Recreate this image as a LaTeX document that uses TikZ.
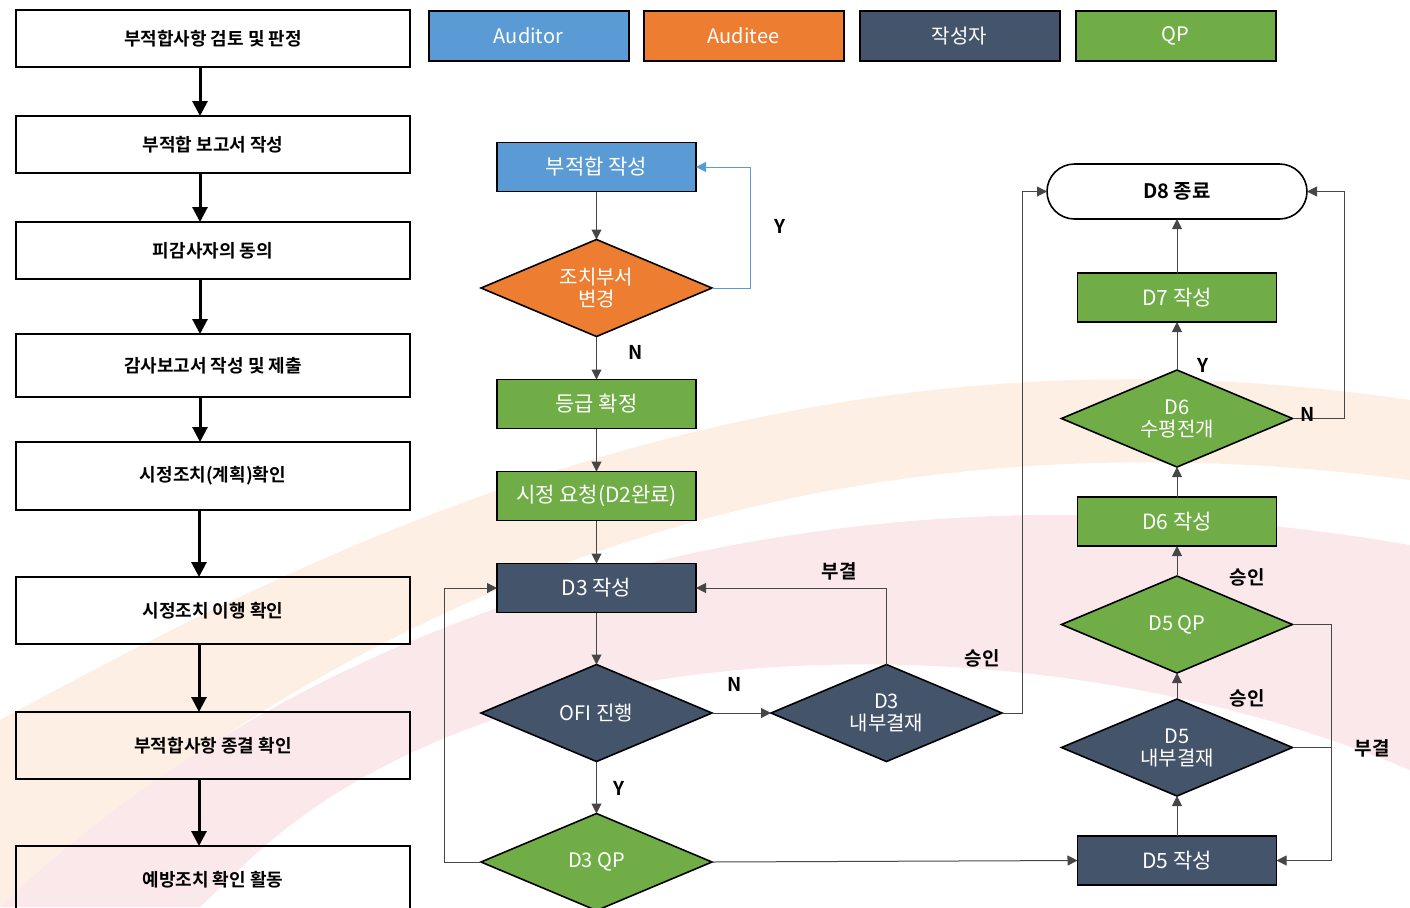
\documentclass[tikz,border=0pt]{standalone}
\usepackage{fontspec}
\setmainfont{Noto Sans CJK KR}[BoldFont={Noto Sans CJK KR Bold}]
\usetikzlibrary{shapes.geometric,arrows.meta,positioning}
\definecolor{auditorcolor}{RGB}{91,155,213}
\definecolor{auditeecolor}{RGB}{237,125,49}
\definecolor{writercolor}{RGB}{68,84,106}
\definecolor{qpcolor}{RGB}{112,173,71}
\definecolor{peachband}{RGB}{253,239,228}
\definecolor{pinkband}{RGB}{251,232,235}
\definecolor{linegray}{RGB}{70,70,70}

\begin{document}
\begin{tikzpicture}[
    x=0.5pt, y=-0.5pt,
    stepbox/.style={rectangle, draw, line width=1pt, outer sep=0pt, minimum width=197pt, font=\bfseries\fontsize{9}{10}\selectfont, align=center},
    module/.style={rectangle, draw, line width=0.8pt, outer sep=0pt, minimum width=99.5pt, minimum height=24.5pt, text=white, font=\fontsize{10.5}{12}\selectfont, align=center},
    legend/.style={minimum width=100pt, minimum height=25pt, line width=1pt, font=\fontsize{10}{12}\selectfont},
    auditor/.style={module, fill=auditorcolor},
    auditee/.style={module, fill=auditeecolor},
    writer/.style={module, fill=writercolor},
    qp/.style={module, fill=qpcolor},
    decision/.style={diamond, draw, line width=0.8pt, outer sep=0pt, aspect=2.36, minimum width=115.5pt, minimum height=48.5pt, inner sep=0pt, text=white, font=\fontsize{10}{11}\selectfont, align=center},
    auditeedec/.style={decision, fill=auditeecolor},
    writerdec/.style={decision, fill=writercolor},
    qpdec/.style={decision, fill=qpcolor},
    endbox/.style={rectangle, draw, line width=0.8pt, outer sep=0pt, rounded corners=13.75pt, fill=white, minimum width=130pt, minimum height=27.5pt, font=\bfseries\fontsize{10}{12}\selectfont},
    bigarrow/.style={-{Triangle[length=7.5pt,width=7.5pt]}, line width=1.5pt},
    flow/.style={-{Triangle[length=5pt,width=5pt]}, draw=linegray, line width=0.5pt},
    tag/.style={font=\bfseries\fontsize{9.5}{10}\selectfont}
]
\useasboundingbox (0,0) rectangle (1410,907);

% Background bands
\fill[peachband] (0,720) .. controls (350,530) and (800,310) .. (1410,400) -- (1410,480) .. controls (800,400) and (350,600) .. (0,907) -- cycle;
\fill[pinkband] (0,907) .. controls (300,620) and (800,440) .. (1410,545) -- (1410,770) .. controls (1100,640) and (700,630) .. (440,740) .. controls (300,800) and (250,860) .. (200,907) -- cycle;

% Left column: audit steps
\node[stepbox, minimum height=28.5pt] (s1) at (213,38.5) {부적합사항 검토 및 판정};
\node[stepbox, minimum height=28.5pt, below=24.5pt of s1] (s2) {부적합 보고서 작성};
\node[stepbox, minimum height=28.5pt, below=24.5pt of s2] (s3) {피감사자의 동의};
\node[stepbox, minimum height=31.5pt, below=27.5pt of s3] (s4) {감사보고서 작성 및 제출};
\node[stepbox, minimum height=34pt, below=22.5pt of s4] (s5) {시정조치(계획)확인};
\node[stepbox, minimum height=33.5pt, below=33.5pt of s5] (s6) {시정조치 이행 확인};
\node[stepbox, minimum height=33.5pt, below=34pt of s6] (s7) {부적합사항 종결 확인};
\node[stepbox, minimum height=34pt, below=33.5pt of s7] (s8) {예방조치 확인 활동};

% Legend
\node[auditor, legend] (lgaud) at (528.5,36) {Auditor};
\node[auditee, legend, right=7.5pt of lgaud] (lgaudt) {Auditee};
\node[writer, legend, right=8pt of lgaudt] (lgwr) {작성자};
\node[qp, legend, right=8pt of lgwr] (lgqp) {QP};

% Middle column
\node[auditor] (nc) at (596.5,167) {부적합 작성};
\node[auditeedec, below=24pt of nc] (chg) {조치부서\\변경};
\node[qp, below=21.5pt of chg] (grade) {등급 확정};
\node[qp, below=21.5pt of grade] (req) {시정 요청(D2완료)};
\node[writer, below=21.5pt of req] (d3w) {D3 작성};
\node[writerdec, below=26pt of d3w] (ofi) {OFI 진행};
\node[qpdec, below=26pt of ofi] (d3qp) {D3 QP};
\node[writerdec, right=29.5pt of ofi] (d3int) {D3\\내부결재};

% Right column
\node[writer] (d5w) at (1177,860.5) {D5 작성};
\node[writerdec, above=20pt of d5w] (d5int) {D5\\내부결재};
\node[qpdec, above=13pt of d5int] (d5qp) {D5 QP};
\node[qp, above=15pt of d5qp] (d6w) {D6 작성};
\node[qpdec, above=15pt of d6w] (d6h) {D6\\수평전개};
\node[qp, above=24pt of d6h] (d7w) {D7 작성};
\node[endbox, above=27pt of d7w] (d8) {D8 종료};

% Arrows - left column
\draw[bigarrow] ([xshift=-6.5pt]s1.south) -- ([xshift=-6.5pt]s2.north);
\draw[bigarrow] ([xshift=-6.5pt]s2.south) -- ([xshift=-6.5pt]s3.north);
\draw[bigarrow] ([xshift=-6.5pt]s3.south) -- ([xshift=-6.5pt]s4.north);
\draw[bigarrow] ([xshift=-6.5pt]s4.south) -- ([xshift=-6.5pt]s5.north);
\draw[bigarrow] ([xshift=-7pt]s5.south) -- ([xshift=-7pt]s6.north);
\draw[bigarrow] ([xshift=-7pt]s6.south) -- ([xshift=-7pt]s7.north);
\draw[bigarrow] ([xshift=-7pt]s7.south) -- ([xshift=-7pt]s8.north);

% Arrows - middle flow
\draw[flow] (nc) -- (chg);
\draw[flow, draw=auditorcolor, -{Triangle[length=5pt,width=5pt,fill=auditorcolor]}] (chg.east) -- ++(19pt,0) |- (nc.east);
\draw[flow] (chg) -- (grade);
\draw[flow] (grade) -- (req);
\draw[flow] (req) -- (d3w);
\draw[flow] (d3w) -- (ofi);
\draw[flow] (ofi) -- (d3int);
\draw[flow] (ofi) -- (d3qp);
\draw[flow] (d3int.north) |- (d3w.east);
\draw[flow] (d3int.east) -- ++(10pt,0) |- (d8.west);
\draw[flow] (d3qp.west) -- ++(-18.5pt,0) |- (d3w.west);
\draw[flow] (d3qp.east) -- (d5w.west);

% Arrows - right flow
\draw[flow] (d5w) -- (d5int);
\draw[flow] (d5int) -- (d5qp);
\draw[flow] (d5qp) -- (d6w);
\draw[flow] (d6w) -- (d6h);
\draw[flow] (d6h) -- (d7w);
\draw[flow] (d7w) -- (d8);
\draw[flow] (d6h.east) -- ++(26pt,0) |- (d8.east);
\draw[flow] (d5qp.east) -- ++(19.5pt,0) coordinate (rej) |- (d5w.east);
\draw[draw=linegray, line width=0.5pt] (d5int.east) -- (d5int.east -| rej);

% Branch labels
\node[tag] (ly1) at (780,226) {Y};
\node[tag] (ln1) at (636,352) {N};
\node[tag] (ln2) at (735,684) {N};
\node[tag] (ly2) at (619,788) {Y};
\node[tag] (lrj1) at (839,571) {부결};
\node[tag] (lok1) at (982,658) {승인};
\node[tag] (ly3) at (1203,365) {Y};
\node[tag] (ln3) at (1308,414) {N};
\node[tag] (lok2) at (1247,577) {승인};
\node[tag] (lok3) at (1247,698) {승인};
\node[tag] (lrj2) at (1372,748) {부결};

\end{tikzpicture}
\end{document}
